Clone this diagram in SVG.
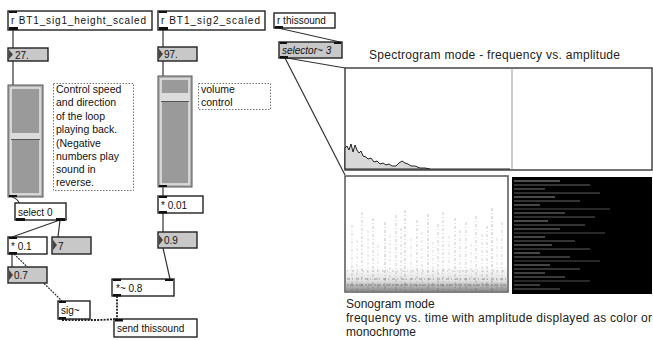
<svg xmlns="http://www.w3.org/2000/svg" width="653" height="340" viewBox="0 0 653 340">
<defs>
<style>
.obj{fill:#fff;stroke:#222;stroke-width:1.4}
.num{fill:#c8c8c8;stroke:#222;stroke-width:1.4}
.io{fill:#111}
.t{font-family:"Liberation Sans",Arial,sans-serif;font-size:10px;fill:#111}
.c{font-family:"Liberation Sans",Arial,sans-serif;font-size:10.5px;fill:#111}
.lbl{font-family:"Liberation Sans",Arial,sans-serif;font-size:12px;fill:#222}
.cm{fill:#fff;stroke:#777;stroke-width:1;stroke-dasharray:1.5,1.5}
.w{stroke:#333;stroke-width:1.2;fill:none}
.sig{stroke:#222;stroke-width:1.8;fill:none;stroke-dasharray:2,1.2}
.sl{fill:#b0b0b0;stroke:#555;stroke-width:1}
.sli{fill:#9a9a9a;stroke:#e6e6e6;stroke-width:1.5}
.knob{fill:#dcdcdc}
.tri{fill:#444}
.st{stroke:#000;fill:none}
.hs{stroke:#9a9a9a;fill:none}
</style>
<linearGradient id="band" x1="0" y1="0" x2="0" y2="1">
<stop offset="0" stop-color="#000" stop-opacity="0"/>
<stop offset="0.6" stop-color="#000" stop-opacity="0.12"/>
<stop offset="1" stop-color="#000" stop-opacity="0.45"/>
</linearGradient>
</defs>
<rect width="653" height="340" fill="#fff"/>

<g id="connectors">
<line class="w" x1="13" y1="30" x2="13" y2="48"/>
<line class="w" x1="13" y1="61" x2="13" y2="85"/>
<path class="w" d="M12,197 Q18,199 19,203"/>
<line class="w" x1="60" y1="220" x2="12" y2="237"/>
<line class="w" x1="60" y1="220" x2="58" y2="237"/>
<line class="w" x1="12" y1="254" x2="12" y2="267"/>
<line class="w" x1="14" y1="254" x2="62" y2="301" stroke-dasharray="2,1"/>
<path class="sig" d="M62,320 L100,320 L117,319"/>
<line class="sig" x1="117" y1="296" x2="117" y2="319"/>
<line class="w" x1="163" y1="248" x2="170" y2="279"/>
<line class="w" x1="163" y1="30" x2="163" y2="47"/>
<line class="w" x1="163" y1="61" x2="163" y2="76"/>
<line class="w" x1="163" y1="187" x2="163" y2="196"/>
<line class="w" x1="163" y1="213" x2="163" y2="232"/>
<line class="w" x1="278" y1="28" x2="340" y2="42"/>
<line class="w" x1="287" y1="58" x2="345" y2="68"/>
<line class="w" x1="285" y1="58" x2="345" y2="175"/>
</g>

<g id="recv1">
<rect class="obj" x="8" y="11" width="144" height="19"/>
<rect class="io" x="9" y="11" width="8" height="2"/>
<rect class="io" x="9" y="27" width="9" height="3"/>
<text class="t" x="11" y="24" textLength="135">r BT1_sig1_height_scaled</text>
</g>
<g id="num27">
<rect class="num" x="8" y="48" width="40" height="13"/>
<polygon class="tri" points="9,50 13,54.5 9,59"/>
<text class="t" x="15" y="58.5">27.</text>
</g>
<g id="slider1">
<rect class="sl" x="8" y="85" width="35" height="112"/>
<rect class="sli" x="11" y="88" width="29" height="106"/>
<rect class="knob" x="11" y="133" width="29" height="6"/>
<line x1="11" y1="139.5" x2="40" y2="139.5" stroke="#555" stroke-width="1"/>
<rect class="io" x="9" y="195" width="8" height="2"/>
</g>
<g id="comment1">
<rect class="cm" x="53.5" y="83.5" width="80" height="107"/>
<text class="c" x="56" y="93">Control speed</text>
<text class="c" x="56" y="106">and direction</text>
<text class="c" x="56" y="120">of the loop</text>
<text class="c" x="56" y="133">playing back.</text>
<text class="c" x="56" y="147">(Negative</text>
<text class="c" x="56" y="160">numbers play</text>
<text class="c" x="56" y="173">sound in</text>
<text class="c" x="56" y="186">reverse.</text>
</g>
<g id="select0">
<rect class="obj" x="15" y="203" width="51" height="17"/>
<rect class="io" x="16" y="218" width="9" height="3"/>
<rect class="io" x="56" y="218" width="9" height="3"/>
<text class="t" x="18" y="215.5">select 0</text>
</g>
<g id="mul01">
<rect class="obj" x="8" y="237" width="39" height="17"/>
<rect class="io" x="9" y="237" width="8" height="2"/>
<rect class="io" x="9" y="252" width="8" height="2.5"/>
<text class="t" x="11" y="249.5">* 0.1</text>
</g>
<g id="num7">
<rect class="num" x="52" y="237" width="39" height="17"/>
<polygon class="tri" points="53,240 57,245 53,250"/>
<text class="t" x="58" y="249.5">7</text>
</g>
<g id="num07">
<rect class="num" x="8" y="267" width="39" height="16"/>
<polygon class="tri" points="9,270 13,275 9,280"/>
<text class="t" x="14" y="279">0.7</text>
</g>
<g id="sig">
<rect class="obj" x="58" y="301" width="32" height="18"/>
<rect class="io" x="59" y="301" width="7" height="2"/>
<rect class="io" x="59" y="317" width="7" height="2.5"/>
<text class="t" x="61" y="313.5">sig~</text>
</g>
<g id="mulsig">
<rect class="obj" x="112" y="279" width="62" height="17"/>
<rect class="io" x="113" y="279" width="8" height="2"/>
<rect class="io" x="165" y="279" width="8" height="2"/>
<rect class="io" x="113" y="294" width="8" height="2.5"/>
<text class="t" x="116" y="291.5">*~ 0.8</text>
</g>
<g id="send">
<rect class="obj" x="114" y="319" width="83" height="18"/>
<rect class="io" x="115" y="319" width="8" height="2.5"/>
<text class="t" x="117" y="331.5">send thissound</text>
</g>
<g id="num09">
<rect class="num" x="158" y="232" width="39" height="16"/>
<polygon class="tri" points="159,235 163,240 159,245"/>
<text class="t" x="164" y="244">0.9</text>
</g>
<g id="mul001">
<rect class="obj" x="158" y="196" width="45" height="17"/>
<rect class="io" x="159" y="196" width="8" height="2"/>
<rect class="io" x="159" y="211" width="8" height="2.5"/>
<text class="t" x="161" y="208.5">* 0.01</text>
</g>
<g id="slider2">
<rect class="sl" x="158" y="76" width="34" height="111"/>
<rect class="sli" x="161" y="79" width="28" height="105"/>
<rect class="knob" x="161" y="93" width="28" height="8"/>
<line x1="161" y1="101.5" x2="189" y2="101.5" stroke="#555" stroke-width="1"/>
<rect class="io" x="159" y="185" width="8" height="2"/>
</g>
<g id="comment2">
<rect class="cm" x="198.5" y="83.5" width="72" height="26"/>
<text class="c" x="201" y="93">volume</text>
<text class="c" x="201" y="106">control</text>
</g>
<g id="num97">
<rect class="num" x="158" y="47" width="39" height="14"/>
<polygon class="tri" points="159,49 163,54 159,59"/>
<text class="t" x="164" y="58">97.</text>
</g>
<g id="recv2">
<rect class="obj" x="158" y="11" width="107" height="19"/>
<rect class="io" x="159" y="11" width="8" height="2"/>
<rect class="io" x="159" y="27" width="9" height="3"/>
<text class="t" x="161" y="24" textLength="99">r BT1_sig2_scaled</text>
</g>
<g id="recv3">
<rect class="obj" x="274" y="13" width="61" height="15"/>
<rect class="io" x="275" y="26" width="8" height="2.5"/>
<text class="t" x="277" y="24">r thissound</text>
</g>
<g id="selector">
<rect class="num" x="279" y="42" width="63" height="16"/>
<rect class="io" x="280" y="42" width="7" height="2"/>
<rect class="io" x="334" y="42" width="7" height="2"/>
<rect class="io" x="280" y="56" width="8" height="2.5"/>
<text class="t" x="282" y="54" font-style="italic">selector~ 3</text>
</g>

<g id="spectrogram">
<text class="lbl" x="369" y="59" textLength="251">Spectrogram mode - frequency vs. amplitude</text>
<rect x="345" y="68" width="307" height="102" fill="#fff" stroke="#444" stroke-width="1.5"/>
<line x1="512" y1="69" x2="512" y2="169" stroke="#999" stroke-width="1"/>
<polygon points="345,169 345,148 347,146 349,150 351,144 353,152 355,145 357,150 359,153 361,151 363,156 366,157 368,159 371,158 374,162 377,161 380,164 383,163 386,165 389,164 392,166 396,166 399,163 402,161 405,163 408,164 411,166 415,166 420,168 425,168 430,169" fill="#d8d8d8" stroke="#222" stroke-width="1"/>
<line x1="430" y1="169" x2="510" y2="169" stroke="#222" stroke-width="1"/>
</g>

<g id="sonogram">
<rect x="345" y="176" width="163" height="116" fill="#fff" stroke="#555" stroke-width="1.5"/>
<g class="st" stroke-width="0.7" stroke-dasharray="3,2,1,2">
<line x1="352" y1="225" x2="352" y2="291" stroke-opacity="0.25"/>
<line x1="357" y1="240" x2="357" y2="291" stroke-opacity="0.2"/>
<line x1="362" y1="212" x2="362" y2="291" stroke-opacity="0.3"/>
<line x1="368" y1="230" x2="368" y2="291" stroke-opacity="0.2"/>
<line x1="373" y1="218" x2="373" y2="291" stroke-opacity="0.3"/>
<line x1="378" y1="245" x2="378" y2="291" stroke-opacity="0.2"/>
<line x1="385" y1="222" x2="385" y2="291" stroke-opacity="0.35"/>
<line x1="390" y1="235" x2="390" y2="291" stroke-opacity="0.2"/>
<line x1="396" y1="215" x2="396" y2="291" stroke-opacity="0.3"/>
<line x1="401" y1="228" x2="401" y2="291" stroke-opacity="0.25"/>
<line x1="405" y1="210" x2="405" y2="291" stroke-opacity="0.35"/>
<line x1="411" y1="238" x2="411" y2="291" stroke-opacity="0.2"/>
<line x1="417" y1="220" x2="417" y2="291" stroke-opacity="0.3"/>
<line x1="422" y1="232" x2="422" y2="291" stroke-opacity="0.2"/>
<line x1="428" y1="214" x2="428" y2="291" stroke-opacity="0.35"/>
<line x1="433" y1="242" x2="433" y2="291" stroke-opacity="0.2"/>
<line x1="438" y1="224" x2="438" y2="291" stroke-opacity="0.3"/>
<line x1="443" y1="212" x2="443" y2="291" stroke-opacity="0.3"/>
<line x1="449" y1="236" x2="449" y2="291" stroke-opacity="0.2"/>
<line x1="455" y1="218" x2="455" y2="291" stroke-opacity="0.3"/>
<line x1="460" y1="230" x2="460" y2="291" stroke-opacity="0.25"/>
<line x1="466" y1="222" x2="466" y2="291" stroke-opacity="0.3"/>
<line x1="471" y1="244" x2="471" y2="291" stroke-opacity="0.2"/>
<line x1="476" y1="216" x2="476" y2="291" stroke-opacity="0.3"/>
<line x1="482" y1="234" x2="482" y2="291" stroke-opacity="0.25"/>
<line x1="487" y1="226" x2="487" y2="291" stroke-opacity="0.3"/>
<line x1="492" y1="208" x2="492" y2="291" stroke-opacity="0.35"/>
<line x1="497" y1="238" x2="497" y2="291" stroke-opacity="0.2"/>
<line x1="502" y1="222" x2="502" y2="291" stroke-opacity="0.25"/>
</g>
<rect x="346" y="266" width="161" height="25" fill="url(#band)"/>
<g class="st" stroke-width="1.2" stroke-opacity="0.35">
<line x1="347" y1="279" x2="506" y2="279" stroke-dasharray="3,2,1,3"/>
<line x1="347" y1="285" x2="506" y2="285" stroke-dasharray="2,1,4,2"/>
<line x1="347" y1="271" x2="506" y2="271" stroke-dasharray="1,4,2,3" stroke-opacity="0.2"/>
</g>
</g>

<g id="monochrome">
<rect x="512" y="177" width="140" height="117" fill="#000"/>
<g class="hs" stroke-width="1.3">
<line x1="514" y1="181" x2="560" y2="181" stroke-opacity="0.7"/>
<line x1="514" y1="185" x2="590" y2="185" stroke-opacity="0.45"/>
<line x1="514" y1="189" x2="545" y2="189" stroke-opacity="0.6"/>
<line x1="514" y1="193" x2="600" y2="193" stroke-opacity="0.4"/>
<line x1="514" y1="197" x2="555" y2="197" stroke-opacity="0.65"/>
<line x1="514" y1="201" x2="580" y2="201" stroke-opacity="0.45"/>
<line x1="514" y1="205" x2="540" y2="205" stroke-opacity="0.7"/>
<line x1="514" y1="209" x2="610" y2="209" stroke-opacity="0.35"/>
<line x1="514" y1="213" x2="565" y2="213" stroke-opacity="0.55"/>
<line x1="514" y1="217" x2="595" y2="217" stroke-opacity="0.4"/>
<line x1="514" y1="221" x2="548" y2="221" stroke-opacity="0.65"/>
<line x1="514" y1="225" x2="585" y2="225" stroke-opacity="0.45"/>
<line x1="514" y1="229" x2="560" y2="229" stroke-opacity="0.55"/>
<line x1="514" y1="233" x2="605" y2="233" stroke-opacity="0.35"/>
<line x1="514" y1="237" x2="545" y2="237" stroke-opacity="0.7"/>
<line x1="514" y1="241" x2="575" y2="241" stroke-opacity="0.45"/>
<line x1="514" y1="245" x2="552" y2="245" stroke-opacity="0.6"/>
<line x1="514" y1="249" x2="590" y2="249" stroke-opacity="0.4"/>
<line x1="514" y1="253" x2="540" y2="253" stroke-opacity="0.7"/>
<line x1="514" y1="257" x2="570" y2="257" stroke-opacity="0.5"/>
<line x1="514" y1="261" x2="600" y2="261" stroke-opacity="0.35"/>
<line x1="514" y1="265" x2="550" y2="265" stroke-opacity="0.6"/>
<line x1="514" y1="269" x2="580" y2="269" stroke-opacity="0.45"/>
<line x1="514" y1="273" x2="545" y2="273" stroke-opacity="0.65"/>
<line x1="514" y1="277" x2="565" y2="277" stroke-opacity="0.5"/>
<line x1="514" y1="281" x2="590" y2="281" stroke-opacity="0.35"/>
<line x1="514" y1="285" x2="540" y2="285" stroke-opacity="0.6"/>
<line x1="514" y1="289" x2="560" y2="289" stroke-opacity="0.45"/>
</g>
</g>

<g id="sonogram-label">
<text class="lbl" x="346" y="308">Sonogram mode</text>
<text class="lbl" x="346" y="322" textLength="306">frequency vs. time with amplitude displayed as color or</text>
<text class="lbl" x="346" y="336">monochrome</text>
</g>
</svg>
